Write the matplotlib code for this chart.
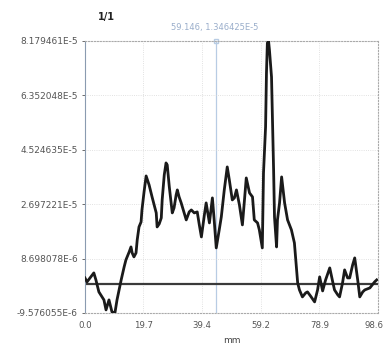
import matplotlib
matplotlib.use("Agg")
import matplotlib.pyplot as plt
import matplotlib.transforms as mtransforms
import numpy as np

# profile (x in mm, y in units of 1e-5)
pos_mm = [0.0, 0.7, 3.0, 3.7, 4.7, 6.4, 7.1, 8.1, 9.1, 10.1,
          10.8, 12.2, 13.2, 13.8, 14.9, 15.5, 15.9, 16.5, 17.2, 17.6,
          18.2, 18.9, 19.2, 19.9, 20.6, 21.6, 22.6, 24.0, 24.3, 25.0,
          25.7, 26.0, 26.7, 27.3, 27.7, 28.4, 29.4, 30.0, 30.7, 31.1,
          31.7, 32.4, 33.4, 34.1, 35.1, 35.8, 36.8, 37.8, 38.5, 39.2,
          40.2, 40.8, 41.9, 42.9, 43.5, 44.2, 45.2, 45.9, 46.9, 47.9,
          48.6, 49.6, 50.3, 51.0, 52.0, 53.0, 53.7, 54.3, 55.4, 56.4,
          57.0, 58.1, 58.7, 59.7, 60.1, 60.8, 61.1, 61.4, 61.8, 62.1,
          62.8, 63.1, 63.5, 63.8, 64.5, 64.8, 65.5, 66.2, 67.2, 68.2,
          69.5, 70.5, 71.6, 72.2, 73.2, 74.3, 74.9, 75.9, 77.3, 78.3,
          79.0, 80.0, 81.0, 82.4, 83.4, 84.0, 85.1, 85.7, 86.7, 87.4,
          88.4, 89.1, 90.1, 90.8, 91.8, 92.5, 93.5, 94.2, 95.9, 97.5,
          98.2]
height_e5 = [0.218, 0.084, 0.386, 0.151, -0.252, -0.521, -0.857, -0.521, -0.924, -0.958,
             -0.521, 0.151, 0.588, 0.823, 1.092, 1.259, 1.058, 0.924, 1.058, 1.495,
             1.931, 2.099, 2.502, 3.107, 3.644, 3.342, 2.939, 2.402, 1.931, 2.032,
             2.234, 2.838, 3.678, 4.081, 4.014, 3.275, 2.402, 2.570, 3.006, 3.174,
             2.939, 2.738, 2.402, 2.167, 2.435, 2.502, 2.402, 2.435, 1.999, 1.595,
             2.334, 2.738, 2.066, 2.906, 2.167, 1.226, 1.831, 2.267, 3.174, 3.947,
             3.510, 2.838, 2.906, 3.174, 2.670, 1.999, 2.838, 3.577, 3.073, 2.939,
             2.167, 2.066, 1.831, 1.226, 3.745, 5.291, 7.104, 8.112, 8.179461, 7.877,
             6.970, 5.626, 3.846, 2.267, 1.259, 2.167, 2.738, 3.611, 2.738, 2.167,
             1.831, 1.394, 0.050, -0.185, -0.420, -0.286, -0.252, -0.386, -0.588, -0.185,
             0.252, -0.219, 0.151, 0.554, 0.084, -0.185, -0.353, -0.420, 0.050, 0.487,
             0.218, 0.218, 0.655, 0.890, 0.151, -0.420, -0.252, -0.185, -0.118, 0.084,
             0.151]
assert len(pos_mm) == len(height_e5)

yticks = [-9.576055e-6, 8.698078e-6, 2.697221e-5, 4.524635e-5, 6.352048e-5, 8.179461e-5]
ytick_labels = ["-9.576055E-6", "8.698078E-6", "2.697221E-5",
                "4.524635E-5", "6.352048E-5", "8.179461E-5"]
xticks = [0.0, 19.7, 39.4, 59.2, 78.9, 98.6]
xtick_labels = ["0.0", "19.7", "39.4", "59.2", "78.9", "98.6"]
cursor_x = 44.1
cursor_text = "59.146, 1.346425E-5"

x = np.array(pos_mm)
y = np.array(height_e5) * 1e-5

fig = plt.figure(figsize=(3.86, 3.5), dpi=100)
ax = fig.add_axes([0.220, 0.106, 0.759, 0.777])

ax.axhline(0, color="#3a3a3a", lw=1.6, zorder=2)
ax.plot(x, y, color="#1a1a1a", lw=2.0, zorder=3)
ax.axvline(cursor_x, color="#b8cce4", lw=0.9, zorder=1)
ax.plot([cursor_x], [yticks[-1]], marker="s", ms=3, mfc="none", mec="#b8cce4", clip_on=False)

ax.set_xlim(0, 98.6)
ax.set_ylim(yticks[0], yticks[-1])
ax.set_xticks(xticks)
ax.set_xticklabels(xtick_labels)
ax.set_yticks(yticks)
ax.set_yticklabels(ytick_labels)
ax.tick_params(labelsize=6.5, colors="#555555", length=2, width=0.6, pad=3)
ax.tick_params(axis="x", length=0, pad=6, labelsize=6.2)

# keep the last x label inside the figure
last = ax.get_xticklabels()[-1]
last.set_horizontalalignment("right")
last.set_transform(last.get_transform() + mtransforms.ScaledTranslation(6 / 100, 0, fig.dpi_scale_trans))

ax.grid(True, ls=":", lw=0.6, color="#d8d8d8")
for s in ["top", "right", "bottom"]:
    ax.spines[s].set_linestyle(":")
    ax.spines[s].set_color("#aaaaaa")
    ax.spines[s].set_linewidth(0.8)
ax.spines["left"].set_color("#8a9bb0")
ax.spines["left"].set_linewidth(0.8)

ax.set_xlabel("mm", fontsize=6.5, color="#444444", labelpad=4)
fig.text(0.277, 0.943, "1/1", fontsize=7, fontweight="bold", color="#222222", ha="center")
fig.text(0.557, 0.915, cursor_text, fontsize=6, color="#9aaecb", ha="center")

fig.savefig("out.png", dpi=100)
